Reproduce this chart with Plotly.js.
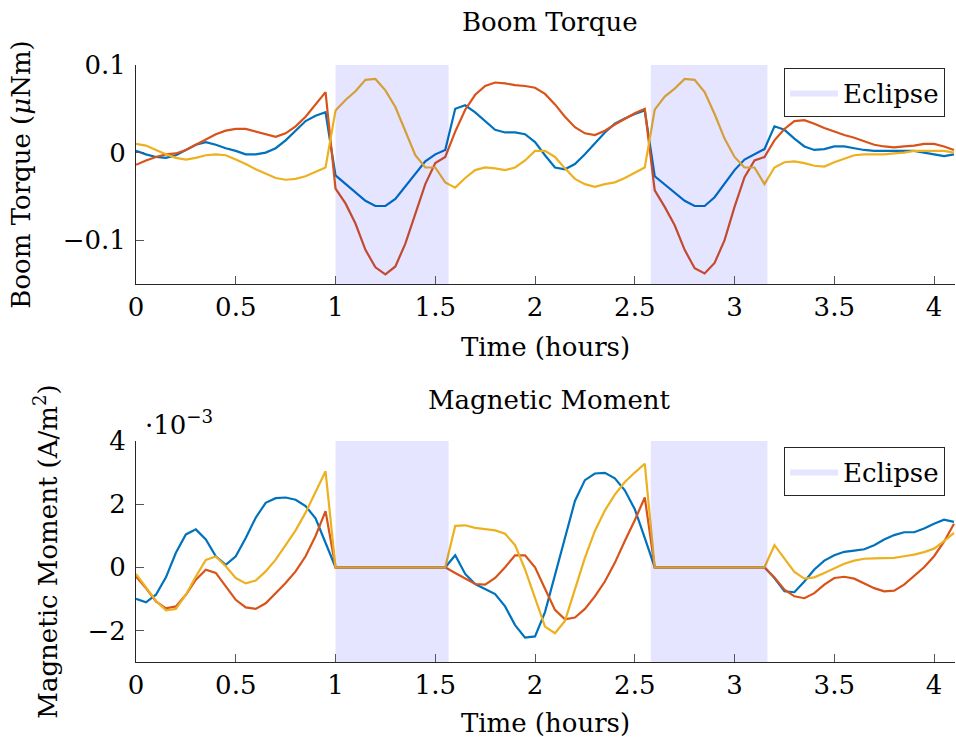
<!DOCTYPE html>
<html>
<head>
<meta charset="utf-8">
<script src="https://cdn.plot.ly/plotly-3.0.1.min.js"></script>
<style>html,body{margin:0;padding:0;background:#fff;}#chart{width:956px;height:747px;}</style>
</head>
<body>
<div id="chart"></div>
<script>
// Time samples (hours)
const timeHours = [0,0.05,0.1,0.15,0.2,0.25,0.3,0.35,0.4,0.45,0.5,0.55,0.6,0.65,0.7,0.75,0.8,0.85,0.9,0.95,
  1.0,1.05,1.1,1.15,1.2,1.25,1.3,1.35,1.4,1.45,1.5,1.55,1.6,1.65,1.7,1.75,1.8,1.85,1.9,1.95,
  2.0,2.05,2.1,2.15,2.2,2.25,2.3,2.35,2.4,2.45,2.5,2.55,2.6,2.65,2.7,2.75,2.8,2.85,2.9,2.95,
  3.0,3.05,3.1,3.15,3.2,3.25,3.3,3.35,3.4,3.45,3.5,3.55,3.6,3.65,3.7,3.75,3.8,3.85,3.9,3.95,
  4.0,4.05,4.1];

// Boom torque (uNm), three components
const torqueX = [0.002,-0.002,-0.005,-0.006,-0.003,0.003,0.009,0.012,0.009,0.005,0.002,-0.002,-0.002,0.000,0.005,0.014,0.025,0.036,0.042,0.046,
  -0.026,-0.036,-0.045,-0.055,-0.061,-0.061,-0.053,-0.039,-0.024,-0.010,-0.002,0.003,
  0.050,0.054,0.046,0.036,0.026,0.023,0.023,0.021,0.012,-0.003,-0.017,-0.019,-0.013,-0.002,0.011,0.023,0.033,0.039,0.044,0.048,
  -0.027,-0.036,-0.046,-0.055,-0.061,-0.061,-0.051,-0.036,-0.020,-0.008,-0.002,0.004,
  0.030,0.026,0.016,0.007,0.003,0.004,0.007,0.007,0.005,0.003,0.002,0.002,0.002,0.002,0.002,0.000,-0.002,-0.004,-0.002];
const torqueY = [-0.014,-0.009,-0.005,-0.002,-0.001,0.003,0.009,0.015,0.021,0.025,0.027,0.027,0.024,0.021,0.018,0.022,0.030,0.041,0.055,0.069,
  -0.041,-0.058,-0.081,-0.111,-0.131,-0.139,-0.130,-0.104,-0.070,-0.036,-0.012,-0.005,
  0.024,0.049,0.066,0.076,0.080,0.079,0.077,0.076,0.074,0.067,0.055,0.041,0.029,0.022,0.020,0.025,0.032,0.039,0.045,0.050,
  -0.043,-0.062,-0.083,-0.111,-0.132,-0.138,-0.126,-0.100,-0.062,-0.028,-0.009,-0.005,
  0.014,0.027,0.036,0.037,0.033,0.028,0.024,0.020,0.017,0.013,0.009,0.007,0.006,0.007,0.008,0.010,0.010,0.007,0.003];
const torqueZ = [0.010,0.008,0.003,-0.002,-0.006,-0.008,-0.006,-0.003,-0.002,-0.003,-0.008,-0.013,-0.019,-0.024,-0.029,-0.031,-0.030,-0.027,-0.022,-0.017,
  0.048,0.060,0.070,0.083,0.084,0.071,0.052,0.025,-0.003,-0.017,-0.017,-0.034,
  -0.040,-0.029,-0.020,-0.017,-0.018,-0.020,-0.017,-0.009,0.002,0.002,-0.005,-0.018,-0.030,-0.036,-0.039,-0.036,-0.034,-0.029,-0.023,-0.017,
  0.049,0.064,0.073,0.084,0.083,0.069,0.044,0.016,-0.005,-0.017,-0.017,-0.036,
  -0.017,-0.011,-0.010,-0.012,-0.015,-0.016,-0.011,-0.007,-0.003,-0.002,-0.002,-0.002,-0.001,0.000,0.002,0.002,0.002,0.002,0.000];

// Magnetic moment (A/m^2), in units of 1e-3
const momentX = [-1.00,-1.11,-0.87,-0.32,0.46,1.04,1.20,0.88,0.35,0.08,0.35,0.93,1.57,2.04,2.19,2.21,2.14,1.94,1.55,0.77,
  0,0,0,0,0,0,0,0,0,0,0,0,
  0.38,-0.21,-0.53,-0.68,-0.85,-1.24,-1.83,-2.23,-2.19,-1.42,-0.23,0.99,2.10,2.76,2.97,2.99,2.82,2.44,1.84,0.93,
  0,0,0,0,0,0,0,0,0,0,0,0,
  -0.34,-0.76,-0.79,-0.45,-0.07,0.21,0.38,0.49,0.53,0.57,0.70,0.88,1.02,1.11,1.11,1.23,1.38,1.51,1.44];
const momentY = [-0.29,-0.66,-1.08,-1.30,-1.24,-0.87,-0.39,-0.08,-0.18,-0.61,-1.03,-1.27,-1.32,-1.14,-0.82,-0.50,-0.13,0.35,0.99,1.78,
  0,0,0,0,0,0,0,0,0,0,0,0,
  -0.18,-0.36,-0.53,-0.55,-0.34,0.00,0.38,0.38,0.00,-0.68,-1.35,-1.65,-1.59,-1.32,-0.92,-0.45,0.14,0.83,1.49,2.21,
  0,0,0,0,0,0,0,0,0,0,0,0,
  -0.32,-0.71,-0.92,-0.98,-0.82,-0.55,-0.34,-0.30,-0.36,-0.50,-0.66,-0.76,-0.74,-0.55,-0.29,0.00,0.35,0.81,1.38];
const momentZ = [-0.21,-0.64,-1.06,-1.36,-1.32,-0.87,-0.29,0.23,0.34,0.03,-0.34,-0.51,-0.42,-0.13,0.24,0.70,1.17,1.73,2.37,3.04,
  0,0,0,0,0,0,0,0,0,0,0,0,
  1.31,1.33,1.25,1.20,1.17,1.06,0.70,-0.07,-0.98,-1.88,-2.09,-1.70,-0.70,0.30,1.15,1.80,2.30,2.70,3.00,3.28,
  0,0,0,0,0,0,0,0,0,0,0,0,
  0.70,0.28,-0.15,-0.36,-0.32,-0.18,-0.04,0.11,0.21,0.27,0.28,0.28,0.30,0.35,0.40,0.48,0.59,0.83,1.09];

// Eclipse intervals (hours)
const eclipseStart = [1.0, 2.58];
const eclipseEnd = [1.567, 3.165];

// Axis ranges
const torqueRange = [-0.15, 0.1];
const momentRange = [-3, 4];
const timeRange = [0, 4.105];

const colors = ['#0072BD', '#D95319', '#EDB120'];
const FONT = 'DejaVu Serif';
const FS = 26;

const traces = [];
[torqueX, torqueY, torqueZ].forEach((s, i) => traces.push({
  x: timeHours, y: s, xaxis: 'x', yaxis: 'y', type: 'scatter', mode: 'lines',
  line: {color: colors[i], width: 2.2}, showlegend: false, hoverinfo: 'x+y'
}));
[momentX, momentY, momentZ].forEach((s, i) => traces.push({
  x: timeHours, y: s, xaxis: 'x2', yaxis: 'y2', type: 'scatter', mode: 'lines',
  line: {color: colors[i], width: 2.2}, showlegend: false, hoverinfo: 'x+y'
}));

// Eclipse patches, drawn after (above) the lines, as filled polygons
function eclipseTrace(range, xa, ya, leg) {
  const xs = [], ys = [];
  eclipseStart.forEach((s, i) => {
    if (i > 0) { xs.push(null); ys.push(null); }
    xs.push(s, eclipseEnd[i], eclipseEnd[i], s, s);
    ys.push(range[0], range[0], range[1], range[1], range[0]);
  });
  return {x: xs, y: ys, xaxis: xa, yaxis: ya, type: 'scatter', mode: 'lines', fill: 'toself',
    fillcolor: 'rgba(0,0,255,0.1)', line: {width: 0, color: 'rgba(0,0,255,0)'}, name: 'Eclipse',
    showlegend: true, legend: leg, hoverinfo: 'skip'};
}
traces.push(eclipseTrace(torqueRange, 'x', 'y', 'legend'));
traces.push(eclipseTrace(momentRange, 'x2', 'y2', 'legend2'));

const axisCommon = {
  ticks: 'inside', ticklen: 8, tickcolor: '#555', showline: true, linecolor: '#262626', linewidth: 1,
  showgrid: false, zeroline: false, mirror: false,
  tickfont: {family: FONT, size: FS, color: '#000'}
};
const legendCommon = {
  xanchor: 'right', yanchor: 'top', x: 0.9878, bgcolor: '#fff', bordercolor: '#262626', borderwidth: 1,
  font: {family: FONT, size: FS, color: '#000'}, itemwidth: 48
};

const layout = {
  width: 956, height: 747,
  margin: {l: 136, r: 1, t: 65, b: 85},
  paper_bgcolor: '#fff', plot_bgcolor: '#fff',
  font: {family: FONT, size: FS, color: '#000'},
  xaxis: Object.assign({}, axisCommon, {anchor: 'y', domain: [0, 1], range: timeRange, tick0: 0, dtick: 0.5,
    title: {text: 'Time (hours)', font: {family: FONT, size: FS, color: '#000'}, standoff: 16}}),
  yaxis: Object.assign({}, axisCommon, {anchor: 'x', domain: [0.6332, 1], range: torqueRange, tick0: 0, dtick: 0.1,
    ticklabelstandoff: 4,
    title: {text: 'Boom Torque (<i>μ</i>Nm)', font: {family: FONT, size: FS, color: '#000'}, standoff: 24}}),
  xaxis2: Object.assign({}, axisCommon, {anchor: 'y2', domain: [0, 1], range: timeRange, tick0: 0, dtick: 0.5,
    title: {text: 'Time (hours)', font: {family: FONT, size: FS, color: '#000'}, standoff: 14}}),
  yaxis2: Object.assign({}, axisCommon, {anchor: 'x2', domain: [0, 0.3702], range: momentRange, tick0: 0, dtick: 2,
    ticklabelstandoff: 4,
    title: {text: 'Magnetic Moment (A/m<sup>2</sup>)', font: {family: FONT, size: FS, color: '#000'}, standoff: 22}}),
  legend: Object.assign({}, legendCommon, {y: 0.995}),
  legend2: Object.assign({}, legendCommon, {y: 0.360}),
  annotations: [
    {text: 'Boom Torque', xref: 'paper', yref: 'paper', x: 0.505, y: 1.072, xanchor: 'center', yanchor: 'middle',
     showarrow: false, font: {family: FONT, size: FS, color: '#000'}},
    {text: 'Magnetic Moment', xref: 'paper', yref: 'paper', x: 0.505, y: 0.4389, xanchor: 'center', yanchor: 'middle',
     showarrow: false, font: {family: FONT, size: FS, color: '#000'}},
    {text: '·10<sup>−3</sup>', xref: 'paper', yref: 'paper', x: 0.0085, y: 0.4003, xanchor: 'left', yanchor: 'middle',
     showarrow: false, font: {family: FONT, size: FS, color: '#000'}}
  ]
};

Plotly.newPlot('chart', traces, layout, {displayModeBar: false, staticPlot: true});
</script>
</body>
</html>
